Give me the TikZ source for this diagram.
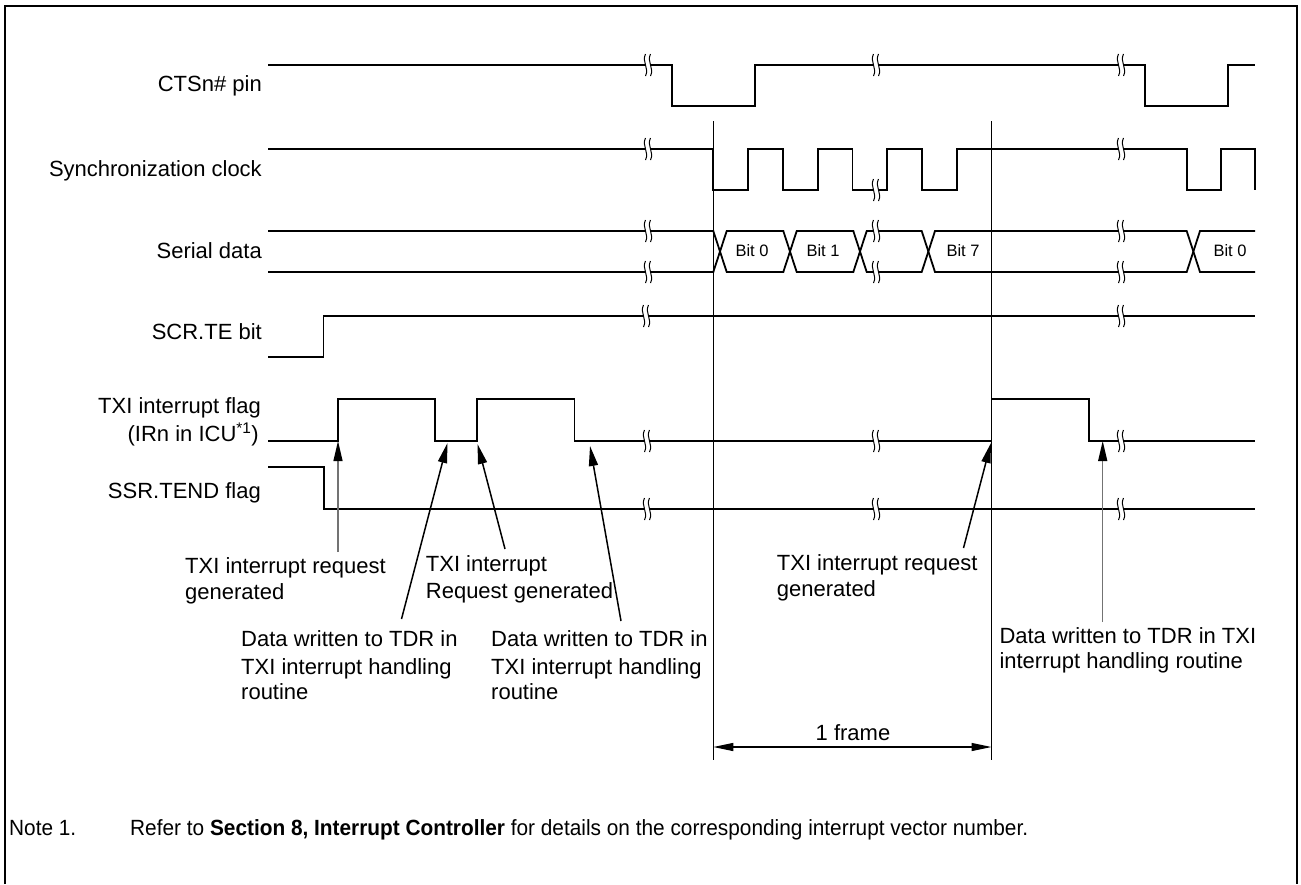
\documentclass[tikz,border=0pt]{standalone}
\usepackage{fontspec}
\setmainfont{Liberation Sans}
\usepackage{graphicx}
\usetikzlibrary{arrows.meta}
\newcommand\brkmark[2]{%
  \fill[white] (#1-2.5,#2-9) rectangle (#1+2.5,#2+9);
  \draw[brkline] (#1-2.5,#2-11) .. controls (#1-6.5,#2-3) and (#1+1.5,#2+3) .. (#1-2.5,#2+11);
  \draw[brkline] (#1+2.5,#2-11) .. controls (#1-1.5,#2-3) and (#1+6.5,#2+3) .. (#1+2.5,#2+11);
}
\begin{document}
\begin{tikzpicture}[x=1pt,y=-1pt,
  sig/.style={line width=1.8pt, line join=miter},
  guide/.style={line width=1.2pt},
  brkline/.style={line width=1pt},
  lbl/.style={inner sep=0pt, font=\fontsize{22}{26}\selectfont},
  bitlbl/.style={inner sep=0pt, font=\fontsize{16.5}{20}\selectfont},
  blk/.style={line width=1.5pt, -{Triangle[length=20pt,width=9pt]}},
  gry/.style={line width=1.2pt, draw=black!55, -{Triangle[length=20pt,width=9pt,color=black]}},
  dim/.style={line width=1.2pt, {Triangle[length=20pt,width=8pt]}-{Triangle[length=20pt,width=8pt]}}
]
\useasboundingbox (0,0) rectangle (1301,884);
% frame
\draw[line width=2.2pt] (5,884) -- (5,6) -- (1297,6) -- (1297,884);

% left labels
\node[lbl,anchor=base east] (lcts) at (262,91) {CTSn\# pin};
\node[lbl,anchor=base east] (lclk) at (262,176) {Synchronization clock};
\node[lbl,anchor=base east] (lser) at (262,258) {Serial data};
\node[lbl,anchor=base east] (lscr) at (262,339) {SCR.TE bit};
\node[lbl,anchor=base east] (ltxia) at (261,413) {TXI interrupt flag};
\node[lbl,anchor=base east] (ltxib) at (259,441) {(IRn in ICU\textsuperscript{*1})};
\node[lbl,anchor=base east] (lssr) at (261,498) {SSR.TEND flag};

% guide lines
\coordinate (g1t) at (713.3,121); \coordinate (g1b) at (713.3,760);
\coordinate (g2t) at (991.5,121); \coordinate (g2b) at (991.5,760);
\draw[guide] (g1t) -- (g1b);
\draw[guide] (g2t) -- (g2b);

% CTS
\draw[sig] (268,65) -- (672,65) -- (672,106) -- (755,106) -- (755,65) -- (1145,65) -- (1145,106) -- (1228,106) -- (1228,65) -- (1255,65);
% clock
\draw[sig] (268,149) -- (713.3,149) -- (713.3,190) -- (748.3,190) -- (748.3,149) -- (783,149) -- (783,190) -- (818,190) -- (818,149) -- (852.5,149) -- (852.5,190) -- (887,190) -- (887,149) -- (922,149) -- (922,190) -- (957,190) -- (957,149) -- (1187,149) -- (1187,190) -- (1221,190) -- (1221,149) -- (1255,149) -- (1255,190);
% serial data
\draw[sig] (268,231) -- (713.3,231) -- (726.7,272) -- (783.3,272) -- (796.7,231) -- (853.3,231) -- (866.7,272) -- (921.7,272) -- (935,231) -- (1186.7,231) -- (1200,272) -- (1255,272);
\draw[sig] (268,272) -- (713.3,272) -- (726.7,231) -- (783.3,231) -- (796.7,272) -- (853.3,272) -- (866.7,231) -- (921.7,231) -- (935,272) -- (1186.7,272) -- (1200,231) -- (1255,231);
\node[bitlbl] (b0) at (752,251) {Bit 0};
\node[bitlbl] (b1) at (823,251) {Bit 1};
\node[bitlbl] (b7) at (963,251) {Bit 7};
\node[bitlbl] (b0r) at (1230,251) {Bit 0};
% SCR.TE
\draw[sig] (268,357) -- (323.5,357) -- (323.5,316) -- (1255,316);
% TXI flag
\draw[sig] (268,441) -- (338,441) -- (338,399) -- (435,399) -- (435,441) -- (477,441) -- (477,399) -- (574.5,399) -- (574.5,441) -- (991.5,441) -- (991.5,399) -- (1089,399) -- (1089,441) -- (1255,441);
% SSR.TEND
\draw[sig] (268,467) -- (324,467) -- (324,509) -- (1255,509);

% break marks
\brkmark{648}{65} \brkmark{876}{65} \brkmark{1121}{65}
\brkmark{648}{149} \brkmark{876}{190} \brkmark{1121}{149}
\brkmark{648}{231} \brkmark{876}{231} \brkmark{1121}{231}
\brkmark{648}{272} \brkmark{876}{272} \brkmark{1121}{272}
\brkmark{646}{316} \brkmark{1121}{316}
\brkmark{647}{441} \brkmark{876}{441} \brkmark{1121}{441}
\brkmark{647}{509} \brkmark{876}{509} \brkmark{1121}{509}

% annotation arrows
\coordinate (t1) at (338,441);    \coordinate (s1) at (338,552);
\coordinate (t2) at (447.5,443);  \coordinate (s2) at (401.5,619);
\coordinate (t3) at (477.5,444);  \coordinate (s3) at (505,549);
\coordinate (t4) at (590,446);    \coordinate (s4) at (621,621);
\coordinate (t5) at (991,443);    \coordinate (s5) at (963.5,548);
\coordinate (t6) at (1102.7,441); \coordinate (s6) at (1102.7,622);
\draw[gry] (s1) -- (t1);
\draw[blk] (s2) -- (t2);
\draw[blk] (s3) -- (t3);
\draw[blk] (s4) -- (t4);
\draw[blk] (s5) -- (t5);
\draw[gry] (s6) -- (t6);

% annotation texts
\node[lbl,anchor=base west] (a1a) at (185,573) {TXI interrupt request};
\node[lbl,anchor=base west] (a1b) at (185,599) {generated};
\node[lbl,anchor=base west] (a2a) at (425.7,571.7) {TXI interrupt};
\node[lbl,anchor=base west] (a2b) at (425.7,598) {Request generated};
\node[lbl,anchor=base west] (a3a) at (241,646.7) {Data written to TDR in};
\node[lbl,anchor=base west] (a3b) at (241,674) {TXI interrupt handling};
\node[lbl,anchor=base west] (a3c) at (241,699) {routine};
\node[lbl,anchor=base west] (a4a) at (491,646.7) {Data written to TDR in};
\node[lbl,anchor=base west] (a4b) at (491,674) {TXI interrupt handling};
\node[lbl,anchor=base west] (a4c) at (491,699) {routine};
\node[lbl,anchor=base west] (a5a) at (776.7,570.7) {TXI interrupt request};
\node[lbl,anchor=base west] (a5b) at (776.7,596.7) {generated};
\node[lbl,anchor=base west] (a6a) at (999.3,643) {Data written to TDR in TXI};
\node[lbl,anchor=base west] (a6b) at (999.3,668) {interrupt handling routine};

% 1 frame
\coordinate (fa) at (713.3,747); \coordinate (fb) at (991.5,747);
\draw[dim] (fa) -- (fb);
\node[lbl,anchor=base] (frm) at (853,740.7) {1 frame};

% note
\node[lbl,anchor=base west] (n1) at (9,835) {\resizebox{67pt}{\height}{Note 1.}};
\node[lbl,anchor=base west] (n2) at (130,835) {\resizebox{898pt}{\height}{Refer to \textbf{Section 8, Interrupt Controller} for details on the corresponding interrupt vector number.}};
\end{tikzpicture}
\end{document}
